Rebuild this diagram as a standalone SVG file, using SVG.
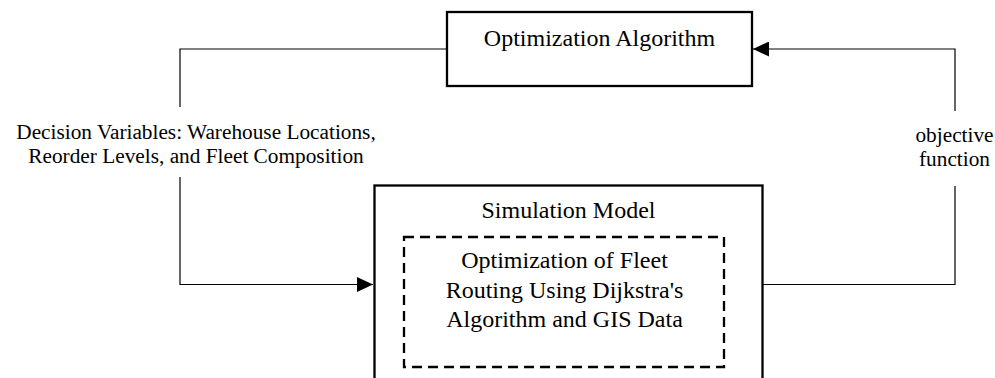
<svg xmlns="http://www.w3.org/2000/svg" width="995" height="378" viewBox="0 0 995 378">
  <defs>
    <style>
      .box { fill: #ffffff; stroke: #000000; stroke-width: 2.3; }
      .dash { fill: none; stroke: #000000; stroke-width: 2.3; stroke-dasharray: 10 6; }
      .wire { fill: none; stroke: #000000; stroke-width: 1.2; }
      .node { font-family: "Liberation Serif", "Times New Roman", serif; font-size: 24px; fill: #000000; text-anchor: middle; }
      .label { font-family: "Liberation Serif", "Times New Roman", serif; font-size: 21.3px; fill: #000000; text-anchor: middle; }
    </style>
    <marker id="arrow" viewBox="0 0 16 15" refX="16" refY="7.5" markerWidth="16" markerHeight="15" markerUnits="userSpaceOnUse" orient="auto">
      <path d="M0,0 L16,7.5 L0,15 Z" fill="#000000"/>
    </marker>
  </defs>

  <rect width="995" height="378" fill="#ffffff"/>

  <!-- connectors -->
  <g id="connectors">
    <!-- decision variables: optimizer -> simulation -->
    <path class="wire" d="M447,49 H180 V107"/>
    <path class="wire" d="M180,177 V284.5 H373" marker-end="url(#arrow)"/>
    <text class="label" x="196" y="138.5">Decision Variables: Warehouse Locations,</text>
    <text class="label" x="196" y="162.8">Reorder Levels, and Fleet Composition</text>

    <!-- objective function: simulation -> optimizer -->
    <path class="wire" d="M763,284.5 H955 V186"/>
    <path class="wire" d="M955,111 V49 H753" marker-end="url(#arrow)"/>
    <text class="label" x="954.5" y="142">objective</text>
    <text class="label" x="954.5" y="166">function</text>
  </g>

  <!-- optimization algorithm -->
  <g id="optimizer">
    <rect class="box" x="447" y="12" width="305" height="74"/>
    <text class="node" x="599.5" y="46">Optimization Algorithm</text>
  </g>

  <!-- simulation model with nested routing module -->
  <g id="simulation">
    <rect class="box" x="374.5" y="185.5" width="388" height="230"/>
    <text class="node" x="568.5" y="218">Simulation Model</text>
  </g>

  <g id="routing">
    <rect class="dash" x="404" y="237" width="320" height="130"/>
    <text class="node" x="564.5" y="268">Optimization of Fleet</text>
    <text class="node" x="564.5" y="297.7">Routing Using Dijkstra's</text>
    <text class="node" x="564.5" y="327.4">Algorithm and GIS Data</text>
  </g>
</svg>
